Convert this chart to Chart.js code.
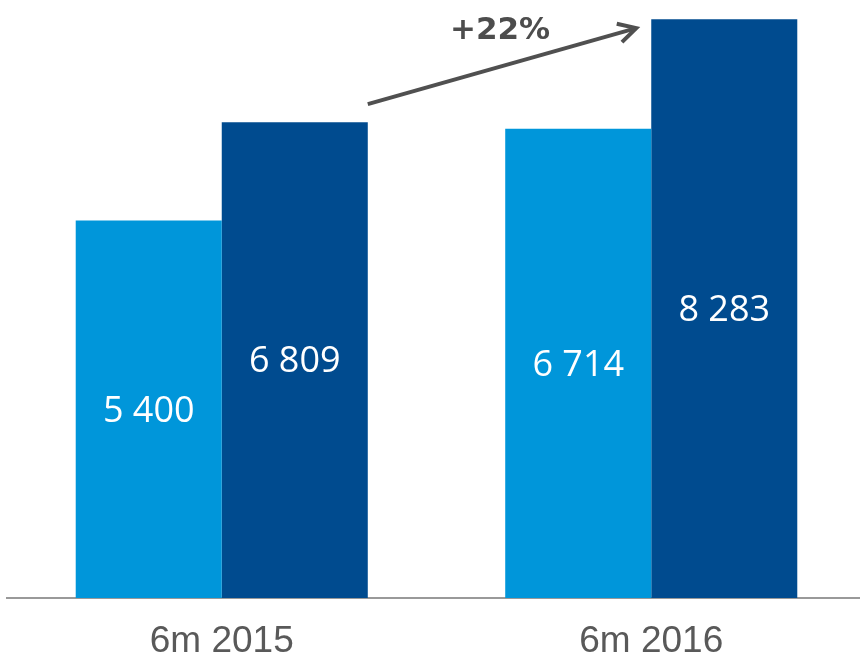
<!DOCTYPE html>
<html>
<head>
<meta charset="utf-8">
<script src="https://cdn.jsdelivr.net/npm/chart.js@4"></script>
<style>
  html, body { margin: 0; padding: 0; background: #fff; overflow: hidden; }
  #wrap { width: 866px; height: 685px; }
</style>
</head>
<body>
<div id="wrap"><canvas id="barChart"></canvas></div>
<script>
// データ
const periods = ['6m 2015', '6m 2016'];
const valuesLight = [5400, 6714];
const valuesDark = [6809, 8283];
const colorLight = '#0096DA';
const colorDark = '#004B8F';

// 数値を「5 400」形式にする
function fmt(v) {
  return String(v).replace(/\B(?=(\d{3})+(?!\d))/g, ' ');
}

// 棒の中央に値を表示
const valueLabels = {
  id: 'valueLabels',
  afterDatasetsDraw(chart) {
    const ctx = chart.ctx;
    ctx.save();
    ctx.fillStyle = '#fff';
    ctx.font = '36px "Open Sans"';
    ctx.textAlign = 'center';
    ctx.textBaseline = 'middle';
    chart.data.datasets.forEach((ds, i) => {
      chart.getDatasetMeta(i).data.forEach((bar, j) => {
        const mid = (bar.y + bar.base) / 2;
        ctx.fillText(fmt(ds.data[j]), bar.x, mid + 2);
      });
    });
    ctx.restore();
  }
};

// 成長率の矢印
const growthArrow = {
  id: 'growthArrow',
  afterDatasetsDraw(chart) {
    const ctx = chart.ctx;
    const b1 = chart.getDatasetMeta(1).data[0];
    const b2 = chart.getDatasetMeta(1).data[1];
    const x1 = b1.x + b1.width / 2;
    const y1 = b1.y - 18;
    const x2 = b2.x - b2.width / 2 - 15;
    const y2 = b2.y + 9;
    ctx.save();
    ctx.strokeStyle = '#505050';
    ctx.lineWidth = 4;
    ctx.lineCap = 'butt';
    ctx.beginPath();
    ctx.moveTo(x1, y1);
    ctx.lineTo(x2, y2);
    ctx.stroke();
    // 矢じり
    const ang = Math.atan2(y2 - y1, x2 - x1);
    const len = 20;
    ctx.lineJoin = 'miter';
    ctx.beginPath();
    ctx.moveTo(x2 - len * Math.cos(ang - 0.5), y2 - len * Math.sin(ang - 0.5));
    ctx.lineTo(x2, y2);
    ctx.lineTo(x2 - len * Math.cos(ang + 0.5), y2 - len * Math.sin(ang + 0.5));
    ctx.stroke();

    const pct = Math.round((valuesDark[1] / valuesDark[0] - 1) * 100);
    ctx.fillStyle = '#4D4D4D';
    ctx.font = 'bold 31px "DejaVu Sans"';
    ctx.textAlign = 'center';
    ctx.textBaseline = 'alphabetic';
    ctx.fillText('+' + pct + '%', 500, 39);
    ctx.restore();
  }
};

let barChart = new Chart(document.getElementById('barChart'), {
  type: 'bar',
  data: {
    labels: periods,
    datasets: [{
      data: valuesLight,
      backgroundColor: colorLight,
      categoryPercentage: 0.68,
      barPercentage: 1.0
    }, {
      data: valuesDark,
      backgroundColor: colorDark,
      categoryPercentage: 0.68,
      barPercentage: 1.0
    }]
  },
  options: {
    responsive: true,
    maintainAspectRatio: false,
    animation: false,
    layout: { padding: { left: 7, top: 0, right: 0, bottom: 0 } },
    plugins: {
      legend: { display: false },
      tooltip: { enabled: false }
    },
    scales: {
      x: {
        grid: { display: false, drawTicks: false },
        border: { display: true, color: '#999999', width: 2 },
        ticks: {
          color: '#595959',
          font: { family: '"Liberation Sans", Arial', size: 37, lineHeight: 1 },
          padding: 25
        }
      },
      y: {
        display: false,
        min: 0,
        max: 8557
      }
    }
  },
  plugins: [valueLabels, growthArrow]
});
</script>
</body>
</html>
